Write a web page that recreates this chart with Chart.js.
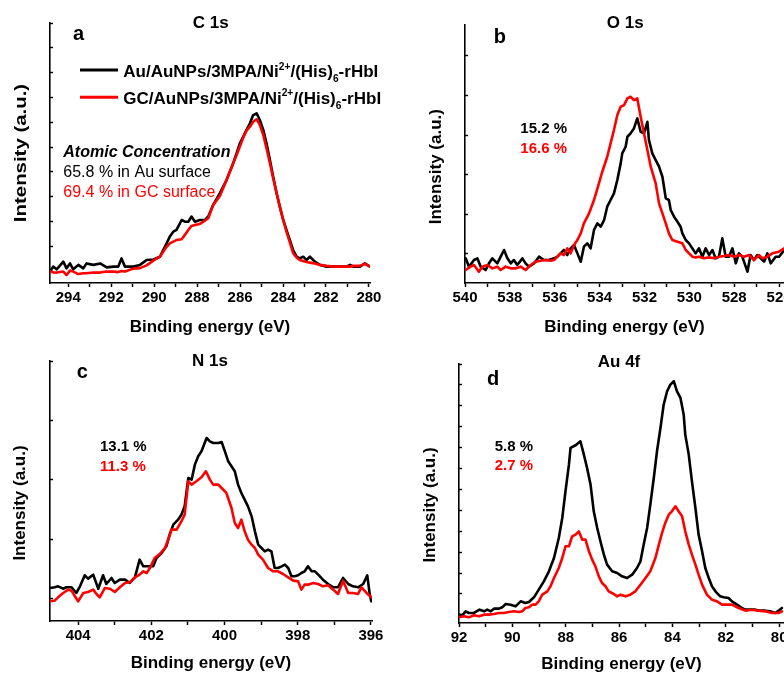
<!DOCTYPE html>
<html><head><meta charset="utf-8">
<script src="https://cdn.jsdelivr.net/npm/chart.js@4.4.1/dist/chart.umd.min.js"></script>
<style>
html,body{margin:0;padding:0;background:#fff;}
#wrap{position:relative;width:784px;height:677px;overflow:hidden;background:#fff;}
canvas{position:absolute;}
</style></head><body>
<div id="wrap">
<canvas id="pa" width="392" height="338" style="left:0;top:0"></canvas>
<canvas id="pb" width="392" height="338" style="left:392px;top:0"></canvas>
<canvas id="pc" width="392" height="339" style="left:0;top:338px"></canvas>
<canvas id="pd" width="392" height="339" style="left:392px;top:338px"></canvas>
</div>
<script>
// ---------- data ----------
const panelTitles = ['C 1s', 'O 1s', 'N 1s', 'Au 4f'];
const panelLetters = ['a', 'b', 'c', 'd'];
const seriesLabels = ['Au/AuNPs/3MPA/Ni2+/(His)6-rHbI', 'GC/AuNPs/3MPA/Ni2+/(His)6-rHbI'];
const atomicPctAu = [65.8, 15.2, 13.1, 5.8];
const atomicPctGC = [69.4, 16.6, 11.3, 2.7];
const xAxisTitle = 'Binding energy (eV)';
const yAxisTitle = 'Intensity (a.u.)';

// C 1s
const c1sEnergy = [294.85,294.70,294.54,294.23,294.08,293.92,293.77,293.53,293.30,293.15,292.83,292.52,292.21,291.90,291.67,291.52,291.36,290.97,290.66,290.35,290.04,289.73,289.58,289.42,289.27,289.11,288.96,288.72,288.57,288.41,288.26,288.10,287.87,287.64,287.48,287.25,286.94,286.63,286.32,286.16,286.01,285.85,285.70,285.54,285.39,285.23,285.08,284.92,284.77,284.61,284.46,284.30,284.15,283.99,283.84,283.68,283.53,283.37,283.22,283.06,282.91,282.75,282.52,282.28,281.97,281.66,281.35,281.04,280.88,280.73,280.42,280.19,279.95];
const c1sAu = [9.8,11.8,10.7,13.8,11.1,13.1,10.7,12.5,11.1,13.1,12.5,13.1,11.5,11.8,11.8,15.1,11.8,11.8,12.5,14.5,14.7,15.8,18.5,21.2,23.9,25.9,26.6,30.6,29.9,29.9,32.0,29.9,30.6,30.6,32.0,36.7,41.4,46.7,53.5,57.5,61.5,64.2,66.9,69.6,72.9,73.6,70.9,66.9,61.5,54.8,48.1,41.4,36.0,30.6,26.6,22.5,18.5,15.8,15.1,15.8,14.5,15.8,13.8,12.5,11.8,11.8,11.8,11.8,12.5,11.8,11.8,13.1,11.8];
const c1sGC = [9.8,9.5,9.4,9.8,8.4,10.2,9.8,8.8,9.1,9.1,9.4,9.4,9.8,9.8,9.6,10.0,9.8,11.0,11.2,12.3,14.2,15.8,17.8,19.8,21.2,21.9,22.5,22.8,24.6,26.6,28.2,28.6,29.0,30.3,31.3,36.7,40.3,46.7,53.5,56.8,60.2,63.9,66.6,68.2,70.2,71.2,68.9,64.9,59.5,53.5,47.4,41.6,36.0,30.6,25.9,21.5,17.2,15.5,14.5,14.1,13.7,13.4,13.1,12.5,12.1,11.8,11.8,11.8,11.8,12.1,12.1,12.9,11.8];

// O 1s
const o1sEnergyAu = [539.97,539.82,539.60,539.45,539.30,539.08,538.93,538.78,538.56,538.41,538.26,538.11,537.96,537.82,537.67,537.44,537.30,537.15,536.92,536.70,536.48,536.26,536.03,535.88,535.74,535.59,535.44,535.29,535.14,534.99,534.84,534.70,534.55,534.40,534.25,534.10,533.95,533.80,533.66,533.51,533.36,533.21,533.06,532.99,532.84,532.76,532.62,532.47,532.32,532.17,532.02,531.87,531.80,531.65,531.50,531.35,531.20,531.05,530.91,530.83,530.68,530.53,530.39,530.31,530.16,530.01,529.87,529.72,529.57,529.42,529.27,529.12,528.97,528.83,528.68,528.53,528.38,528.23,528.08,527.93,527.79,527.64,527.41,527.27,527.12,526.97,526.82,526.67,526.52,526.37,526.15,526.00,525.77];
const o1sAu = [8.83,6.73,8.41,8.83,6.73,5.88,7.57,8.83,7.57,9.25,10.94,8.83,7.57,8.41,7.15,8.83,7.57,6.73,7.57,9.25,8.41,8.41,8.83,9.25,10.09,10.94,9.67,11.36,12.20,10.09,7.99,11.78,12.62,11.36,15.99,17.67,16.83,18.51,21.88,23.57,25.25,28.62,32.83,35.35,37.04,39.56,40.41,41.67,44.19,40.83,40.41,43.34,38.72,35.35,33.67,31.99,29.46,23.99,23.57,21.04,19.36,18.09,16.83,15.15,13.46,12.62,11.36,10.09,11.36,9.25,11.36,9.67,10.94,8.83,9.25,13.88,9.25,9.25,11.36,7.57,10.09,9.25,5.46,9.67,8.41,9.67,8.83,7.99,10.09,7.57,9.25,9.25,10.94];
const o1sEnergyGC = [539.97,539.75,539.60,539.38,539.23,539.00,538.78,538.56,538.41,538.19,537.96,537.74,537.52,537.30,537.07,536.85,536.63,536.40,536.18,536.03,535.88,535.74,535.59,535.44,535.29,535.14,534.99,534.84,534.70,534.47,534.25,534.03,533.88,533.66,533.51,533.36,533.21,533.06,532.91,532.76,532.62,532.47,532.32,532.17,532.02,531.87,531.72,531.50,531.35,531.20,531.05,530.91,530.76,530.53,530.31,530.16,530.01,529.87,529.72,529.57,529.35,529.12,528.90,528.68,528.45,528.23,528.01,527.79,527.56,527.34,527.12,526.89,526.75,526.52,526.30,526.00,525.77];
const o1sGC = [5.88,6.73,7.15,5.46,6.73,7.15,6.30,6.73,5.88,6.73,6.30,6.30,6.73,5.88,7.15,7.99,8.24,8.41,8.24,8.41,9.25,10.09,9.67,11.36,10.09,12.20,13.46,15.15,17.67,20.20,23.57,27.78,30.72,34.51,37.88,41.25,45.04,47.14,47.56,49.25,49.67,48.83,49.25,44.62,40.41,36.20,31.99,27.78,22.72,20.20,17.67,15.15,13.46,13.04,12.62,10.94,10.09,9.25,9.08,9.25,8.83,9.08,8.83,9.25,9.42,9.67,9.25,9.67,9.25,9.67,8.41,9.67,8.83,9.25,10.09,10.51,11.36];

// N 1s
const n1sEnergyAu = [404.77,404.64,404.55,404.41,404.32,404.18,404.05,403.95,403.82,403.73,403.59,403.45,403.32,403.23,403.09,403.00,402.86,402.72,402.59,402.45,402.32,402.22,402.09,401.95,401.86,401.72,401.59,401.50,401.40,401.27,401.18,401.09,400.99,400.90,400.81,400.72,400.63,400.49,400.40,400.31,400.17,400.08,399.99,399.90,399.81,399.72,399.63,399.54,399.45,399.36,399.26,399.17,399.08,398.99,398.90,398.81,398.72,398.63,398.54,398.44,398.35,398.26,398.17,398.08,397.99,397.90,397.81,397.72,397.62,397.53,397.44,397.31,397.17,397.03,396.90,396.76,396.62,396.49,396.35,396.21,396.10,396.03,395.99];
const n1sAu = [11.85,11.96,12.13,11.73,11.96,11.96,11.01,12.13,13.98,13.42,14.09,11.73,13.98,12.52,13.53,12.69,13.25,13.25,12.69,13.64,16.61,15.49,15.49,15.49,16.89,17.73,18.85,20.81,22.49,23.33,24.17,25.57,30.34,30.06,32.58,33.98,34.82,37.06,36.50,36.22,36.22,36.39,34.82,33.14,32.30,31.46,29.22,27.82,26.69,25.57,23.89,21.37,19.13,18.57,18.01,18.29,18.01,15.21,15.21,15.49,15.77,15.21,13.81,13.81,13.98,14.37,14.65,15.49,14.65,14.65,14.09,13.25,12.52,11.96,11.96,13.53,12.52,12.13,11.96,12.52,13.98,10.73,9.61];
const n1sEnergyGC = [404.77,404.64,404.55,404.41,404.27,404.18,404.09,404.00,403.86,403.73,403.59,403.50,403.41,403.27,403.13,403.00,402.86,402.72,402.59,402.45,402.32,402.22,402.13,402.04,401.91,401.77,401.63,401.54,401.45,401.31,401.18,401.09,400.99,400.90,400.77,400.63,400.51,400.40,400.31,400.17,400.08,399.95,399.81,399.72,399.63,399.54,399.45,399.36,399.26,399.17,399.08,398.95,398.81,398.67,398.54,398.40,398.26,398.12,397.99,397.90,397.81,397.72,397.58,397.44,397.31,397.17,397.03,396.90,396.76,396.62,396.49,396.35,396.26,396.12,395.99];
const n1sGC = [9.61,9.72,10.28,11.01,11.57,11.40,10.45,9.61,11.01,11.17,11.57,10.84,10.28,11.85,11.73,11.17,11.96,12.69,12.80,13.64,14.09,14.65,14.37,15.21,16.89,17.56,18.57,19.97,21.65,21.65,23.05,24.17,29.78,29.22,29.78,30.45,31.46,30.06,29.22,29.22,28.66,27.82,25.29,22.77,21.93,23.33,21.37,19.97,19.13,18.57,17.45,16.61,15.21,14.65,14.65,14.20,13.64,13.08,12.97,11.57,12.41,12.41,12.69,12.52,12.13,12.30,11.57,10.84,13.08,11.01,11.01,10.84,11.96,11.01,10.28];

// Au 4f
const au4fEnergyAu = [92.00,91.88,91.75,91.63,91.44,91.23,91.06,90.94,90.81,90.69,90.50,90.38,90.25,90.07,89.88,89.69,89.51,89.38,89.19,89.01,88.82,88.63,88.44,88.26,88.13,88.01,87.88,87.82,87.63,87.45,87.32,87.20,87.07,86.95,86.82,86.70,86.57,86.45,86.26,86.07,85.89,85.70,85.51,85.33,85.20,85.08,84.95,84.83,84.70,84.58,84.45,84.33,84.20,84.08,83.95,83.83,83.70,83.58,83.52,83.39,83.27,83.14,83.02,82.89,82.77,82.64,82.52,82.39,82.21,82.08,81.90,81.77,81.58,81.40,81.27,81.08,80.90,80.71,80.52,80.34,80.15,80.02,79.90];
const au4fAu = [10.09,9.77,11.68,10.89,10.89,12.48,11.68,12.48,11.68,12.96,12.96,13.60,15.19,14.87,14.08,16.47,15.67,16.15,18.38,22.05,26.04,30.82,37.20,46.77,56.34,69.10,81.86,89.84,91.12,93.03,86.65,80.27,72.29,59.53,51.56,45.18,38.80,34.01,30.82,30.03,28.43,27.63,29.23,32.42,35.61,43.58,51.56,62.72,75.48,88.24,99.41,110.57,116.95,120.14,121.74,116.95,113.76,105.79,96.22,86.65,73.89,61.13,48.37,40.39,32.42,27.63,23.65,21.25,18.86,18.38,18.06,16.47,14.87,13.28,12.48,12.48,12.48,12.00,12.00,11.68,10.89,12.00,13.28];
const au4fEnergyGC = [92.00,91.81,91.63,91.44,91.25,91.06,90.88,90.69,90.50,90.32,90.13,89.94,89.75,89.63,89.51,89.38,89.26,89.13,89.01,88.88,88.69,88.57,88.44,88.26,88.13,88.01,87.88,87.76,87.63,87.51,87.38,87.26,87.13,87.01,86.89,86.76,86.64,86.51,86.39,86.20,86.07,85.95,85.76,85.58,85.39,85.20,85.01,84.83,84.64,84.51,84.39,84.27,84.14,84.02,83.89,83.77,83.64,83.52,83.39,83.27,83.14,83.02,82.89,82.71,82.52,82.33,82.14,81.96,81.77,81.52,81.27,81.02,80.77,80.52,80.27,80.02,79.90];
const au4fGC = [8.81,9.29,8.81,9.77,9.29,10.09,10.09,10.41,10.89,10.89,11.36,11.68,11.36,11.68,13.28,13.60,14.87,14.87,16.47,19.66,21.25,23.65,27.63,32.42,37.20,42.79,42.79,47.57,48.37,49.96,45.98,45.98,40.39,36.41,33.22,28.43,25.24,23.65,21.25,19.98,18.86,19.66,18.86,19.66,21.25,24.44,27.63,30.82,37.20,43.58,49.17,53.95,57.94,59.53,61.93,59.53,57.14,49.96,43.58,38.80,34.01,29.23,24.44,19.66,17.27,16.47,14.87,14.87,14.87,13.28,12.00,12.48,12.00,11.68,10.89,10.89,11.68];

// axis ranges (eV) and intensity ranges (a.u.)
const xRanges = [[279.95, 294.85], [525.78, 540], [395.97, 404.77], [79.82, 92]];
const yRanges = [[5.2, 110], [2.6, 67.8], [6.3, 50], [6.1, 130]];

// ---------- drawing ----------
const FONT = "'Liberation Sans', Arial, Helvetica, sans-serif";
Chart.defaults.font.family = FONT;
Chart.defaults.color = '#000';
const BLACK = '#000000', RED = '#ff0000';

function drawItems(ctx, items) {
  for (const t of items) {
    ctx.save();
    ctx.fillStyle = t.color || BLACK;
    ctx.textAlign = t.align || 'left';
    ctx.textBaseline = t.base || 'alphabetic';
    if (t.rich) {
      let cx = t.x;
      for (const s of t.rich) {
        const sz = s.s ? t.size * 0.6 : t.size;
        ctx.font = `bold ${sz}px ${FONT}`;
        const dy = s.s === 1 ? -t.size * 0.42 : (s.s === -1 ? t.size * 0.3 : 0);
        ctx.fillText(s.t, cx, t.y + dy);
        cx += ctx.measureText(s.t).width;
      }
    } else if (t.line) {
      ctx.strokeStyle = t.color; ctx.lineWidth = 3;
      ctx.beginPath(); ctx.moveTo(t.x, t.y); ctx.lineTo(t.x2, t.y); ctx.stroke();
    } else {
      ctx.font = t.font;
      if (t.rot) {
        ctx.translate(t.x, t.y); ctx.rotate(-Math.PI / 2);
        if (t.sx) ctx.scale(t.sx, 1);
        ctx.fillText(t.text, 0, 0);
      }
      else ctx.fillText(t.text, t.x, t.y);
    }
    ctx.restore();
  }
}

function makePanel(id, p) {
  const datasets = p.series.map(s => ({
    data: s.x.slice(0, Math.min(s.x.length, s.y.length)).map((x, j) => ({x: x, y: s.y[j]})),
    borderColor: s.color, borderWidth: 2.6, pointRadius: 0, tension: 0, fill: false,
    borderJoinStyle: 'round', borderCapStyle: 'round', order: s.order
  }));
  return new Chart(document.getElementById(id), {
    type: 'line',
    data: {datasets},
    options: {
      responsive: false, animation: false, devicePixelRatio: 1, events: [],
      layout: {padding: p.pad},
      plugins: {legend: {display: false}, tooltip: {enabled: false}},
      scales: {
        x: {
          type: 'linear', reverse: true, min: p.xr[0], max: p.xr[1],
          border: {display: true, color: BLACK, width: 1.6},
          grid: {display: true, drawOnChartArea: false, drawTicks: true, tickLength: 4, tickColor: BLACK, tickWidth: 1.5},
          ticks: {stepSize: 1, autoSkip: false, maxRotation: 0, minRotation: 0, includeBounds: false, padding: 2,
            color: BLACK, font: {size: 15, weight: 'bold'},
            callback: v => (Math.round(v) % 2 === 0 ? String(v) : '')},
          title: {display: true, text: xAxisTitle, color: BLACK, font: {size: 17, weight: 'bold'},
            padding: {top: 0, bottom: p.xTitlePad}},
          afterFit: s => { s.height = p.xH; s.paddingLeft = 0; s.paddingRight = 0; }
        },
        y: {
          type: 'linear', min: p.yr[0], max: p.yr[1],
          border: {display: true, color: BLACK, width: 1.6},
          grid: {display: true, drawOnChartArea: false, drawTicks: true, tickLength: -3, tickColor: BLACK, tickWidth: 1.4},
          ticks: {display: false, stepSize: 10, includeBounds: false},
          afterFit: s => { s.width = p.yW; s.paddingTop = 0; s.paddingBottom = 0; }
        }
      }
    },
    plugins: [{id: 'texts', afterDraw(chart) { drawItems(chart.ctx, p.texts); }}]
  });
}

const B17 = `bold 17px ${FONT}`, B15 = `bold 15px ${FONT}`, B20 = `bold 20px ${FONT}`;
const pct = v => v.toFixed(1) + ' %';
function legendRich(prefix) {
  return [{t: prefix + '/AuNPs/3MPA/Ni'}, {t: '2+', s: 1}, {t: '/(His)'}, {t: '6', s: -1}, {t: '-rHbI'}];
}

makePanel('pa', {
  xr: xRanges[0], yr: yRanges[0], pad: {left: 0, top: 23, right: 22, bottom: 0}, yW: 50, xH: 55, xTitlePad: 0,
  series: [{x: c1sEnergy, y: c1sAu, color: BLACK, order: 1}, {x: c1sEnergy, y: c1sGC, color: RED, order: 0}],
  texts: [
    {text: panelTitles[0], x: 210.7, y: 28.3, font: B17, align: 'center'},
    {text: panelLetters[0], x: 73, y: 40, font: B20},
    {text: yAxisTitle, x: 21.3, y: 153, font: B17, align: 'center', base: 'middle', rot: true, sx: 1.2},
    {line: true, x: 80, x2: 118, y: 70, color: BLACK},
    {rich: legendRich('Au'), x: 123.3, y: 76.7, size: 17, color: BLACK},
    {line: true, x: 80, x2: 118, y: 97.3, color: RED},
    {rich: legendRich('GC'), x: 123.3, y: 103.5, size: 17, color: BLACK},
    {text: 'Atomic Concentration', x: 63.3, y: 156.7, font: `italic bold 16px ${FONT}`},
    {text: pct(atomicPctAu[0]) + ' in Au surface', x: 63.3, y: 176.7, font: `16px ${FONT}`},
    {text: pct(atomicPctGC[0]) + ' in GC surface', x: 63.3, y: 196.7, font: `16px ${FONT}`, color: RED}
  ]
});

makePanel('pb', {
  xr: xRanges[1], yr: yRanges[1], pad: {left: 0, top: 25, right: 0, bottom: 0}, yW: 73, xH: 55, xTitlePad: 0,
  series: [{x: o1sEnergyAu, y: o1sAu, color: BLACK, order: 1}, {x: o1sEnergyGC, y: o1sGC, color: RED, order: 0}],
  texts: [
    {text: panelTitles[1], x: 233.3, y: 28.3, font: B17, align: 'center'},
    {text: panelLetters[1], x: 101.7, y: 43.3, font: B20},
    {text: yAxisTitle, x: 44.2, y: 166.7, font: B17, align: 'center', base: 'middle', rot: true},
    {text: pct(atomicPctAu[1]), x: 128.3, y: 133.3, font: B15},
    {text: pct(atomicPctGC[1]), x: 128.3, y: 153.3, font: B15, color: RED}
  ]
});

makePanel('pc', {
  xr: xRanges[2], yr: yRanges[2], pad: {left: 0, top: 23, right: 20, bottom: 0}, yW: 50, xH: 56, xTitlePad: 3,
  series: [{x: n1sEnergyAu, y: n1sAu, color: BLACK, order: 1}, {x: n1sEnergyGC, y: n1sGC, color: RED, order: 0}],
  texts: [
    {text: panelTitles[2], x: 210, y: 28.3, font: B17, align: 'center'},
    {text: panelLetters[2], x: 76.7, y: 40, font: B20},
    {text: yAxisTitle, x: 20.8, y: 165, font: B17, align: 'center', base: 'middle', rot: true},
    {text: pct(atomicPctAu[2]), x: 100, y: 113.3, font: B15},
    {text: pct(atomicPctGC[2]), x: 100, y: 133.3, font: B15, color: RED}
  ]
});

makePanel('pd', {
  xr: xRanges[3], yr: yRanges[3], pad: {left: 0, top: 26, right: 0, bottom: 0}, yW: 67, xH: 54, xTitlePad: 2,
  series: [{x: au4fEnergyAu, y: au4fAu, color: BLACK, order: 1}, {x: au4fEnergyGC, y: au4fGC, color: RED, order: 0}],
  texts: [
    {text: panelTitles[3], x: 227, y: 29.3, font: B17, align: 'center'},
    {text: panelLetters[3], x: 95, y: 46.7, font: B20},
    {text: yAxisTitle, x: 38.3, y: 167, font: B17, align: 'center', base: 'middle', rot: true},
    {text: pct(atomicPctAu[3]), x: 102.7, y: 112.7, font: B15},
    {text: pct(atomicPctGC[3]), x: 102.7, y: 131.7, font: B15, color: RED}
  ]
});
</script>
</body></html>
